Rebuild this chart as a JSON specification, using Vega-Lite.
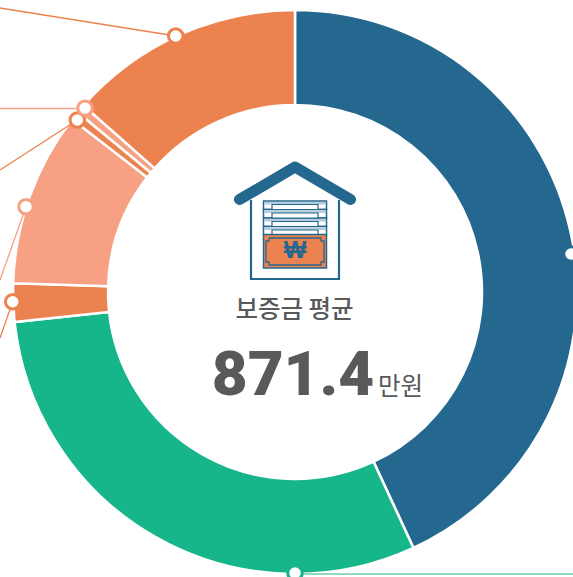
{
"$schema":"https://vega.github.io/schema/vega-lite/v6.json",
"width":573,"height":577,"padding":0,
"autosize":"none",
"background":"#ffffff",
"config":{"view":{"stroke":null},"font":"Noto Sans CJK KR"},
"datasets":{
"shares":[
{"k":"a","share":43.1,"c":"b"},
{"k":"b","share":30.2,"c":"g"},
{"k":"c","share":2.2,"c":"o"},
{"k":"d","share":10.0,"c":"s"},
{"k":"e","share":0.5,"c":"o"},
{"k":"f","share":0.5,"c":"s"},
{"k":"g","share":13.5,"c":"o"}],
"leaders":[
{"id":"o1","c":"o","w":1,"px":0,"py":8},{"id":"o1","c":"o","w":1,"px":175.7,"py":36},
{"id":"o2","c":"o","w":1,"px":0,"py":170},{"id":"o2","c":"o","w":1,"px":77.3,"py":120},
{"id":"s1","c":"s","w":1,"px":0,"py":280},{"id":"s1","c":"s","w":1,"px":26,"py":206.7},
{"id":"o3","c":"o","w":1,"px":0,"py":338},{"id":"o3","c":"o","w":1,"px":12.7,"py":301.7},
{"id":"s2","c":"s","w":2,"px":0,"py":108.5},{"id":"s2","c":"s","w":2,"px":85,"py":108.5},
{"id":"g1","c":"l","w":2,"px":295,"py":574},{"id":"g1","c":"l","w":2,"px":573,"py":574}],
"dots":[
{"px":175.7,"py":36,"c":"o"},{"px":77.3,"py":120,"c":"o"},{"px":85,"py":108.3,"c":"s"},
{"px":26,"py":206.7,"c":"s"},{"px":12.7,"py":301.7,"c":"o"},{"px":295,"py":573,"c":"g"},{"px":571,"py":254,"c":"b"}]
},
"encoding":{},
"layer":[
{"data":{"name":"shares"},"mark":{"type":"arc","outerRadius":282,"innerRadius":187,"stroke":"#ffffff","strokeWidth":2.5},
 "encoding":{"x":{"datum":295,"type":"quantitative","scale":{"domain":[0,573],"nice":false,"zero":false},"axis":null},
 "y":{"datum":292,"type":"quantitative","scale":{"domain":[577,0],"nice":false,"zero":false},"axis":null},
 "theta":{"field":"share","type":"quantitative","stack":true,"scale":{"domain":[0,100],"range":[0,6.28318530718]}},
 "order":{"field":"k"},
 "color":{"field":"c","type":"nominal","scale":{"domain":["b","g","o","s","l"],"range":["#24688F","#17B68A","#EC824F","#F7A083","#6DCDB2"]},"legend":null}}},
{"data":{"name":"leaders"},"mark":{"type":"line","strokeWidth":1.3,"clip":true},
 "encoding":{"x":{"field":"px","type":"quantitative","axis":null},
 "y":{"field":"py","type":"quantitative","axis":null},
 "detail":{"field":"id"},"strokeWidth":{"field":"w","type":"quantitative","scale":{"domain":[1,2],"range":[1.3,2]},"legend":null},
 "color":{"field":"c","type":"nominal","scale":{"domain":["b","g","o","s","l"],"range":["#24688F","#17B68A","#EC824F","#F7A083","#6DCDB2"]},"legend":null}}},
{"data":{"name":"dots"},"mark":{"type":"point","shape":"circle","filled":false,"fill":"#ffffff","fillOpacity":1,"opacity":1,"size":210,"strokeWidth":3},
 "encoding":{"x":{"field":"px","type":"quantitative","axis":null},"y":{"field":"py","type":"quantitative","axis":null},
 "stroke":{"field":"c","type":"nominal","scale":{"domain":["b","g","o","s","l"],"range":["#24688F","#17B68A","#EC824F","#F7A083","#6DCDB2"]},"legend":null}}},
{"data":{"values":[{"px":239.5,"py":199.5,"n":1},{"px":295,"py":167,"n":2},{"px":350.5,"py":199.5,"n":3}]},
 "mark":{"type":"line","stroke":"#24688F","strokeWidth":11,"strokeCap":"round","strokeJoin":"round"},
 "encoding":{"x":{"field":"px","type":"quantitative","axis":null},"y":{"field":"py","type":"quantitative","axis":null},"order":{"field":"n"}}},
{"data":{"values":[{"px":251,"py":200,"n":1},{"px":251,"py":279,"n":2},{"px":339,"py":279,"n":3},{"px":339,"py":200,"n":4}]},
 "mark":{"type":"line","stroke":"#24688F","strokeWidth":2.2},
 "encoding":{"x":{"field":"px","type":"quantitative","axis":null},"y":{"field":"py","type":"quantitative","axis":null},"order":{"field":"n"}}},
{"data":{"values":[
 {"a":263.5,"b":326.5,"t":201,"u":209.5},{"a":263.5,"b":326.5,"t":209.5,"u":218},{"a":263.5,"b":326.5,"t":218,"u":226.5},{"a":263.5,"b":326.5,"t":226.5,"u":235}]},
 "mark":{"type":"rect","fill":"#ffffff","stroke":"#24688F","strokeWidth":1.5},
 "encoding":{"x":{"field":"a","type":"quantitative","axis":null},"x2":{"field":"b"},"y":{"field":"t","type":"quantitative","axis":null},"y2":{"field":"u"}}},
{"data":{"values":[
 {"a":264,"b":326,"t":202,"u":204.5},{"a":264,"b":326,"t":210.5,"u":213},{"a":264,"b":326,"t":219,"u":221.5},{"a":264,"b":326,"t":227.5,"u":230}]},
 "mark":{"type":"rect","fill":"#B5CDDB"},
 "encoding":{"x":{"field":"a","type":"quantitative","axis":null},"x2":{"field":"b"},"y":{"field":"t","type":"quantitative","axis":null},"y2":{"field":"u"}}},
{"data":{"values":[
 {"a":272,"b":318,"t":204.5,"u":209.5},{"a":272,"b":318,"t":213,"u":218},{"a":272,"b":318,"t":221.5,"u":226.5},{"a":272,"b":318,"t":230,"u":235}]},
 "mark":{"type":"rect","fill":"#ffffff","stroke":"#24688F","strokeWidth":1.2},
 "encoding":{"x":{"field":"a","type":"quantitative","axis":null},"x2":{"field":"b"},"y":{"field":"t","type":"quantitative","axis":null},"y2":{"field":"u"}}},
{"data":{"values":[{"a":263.5,"b":326.5,"t":234.5,"u":268}]},
 "mark":{"type":"rect","fill":"#EC824F","stroke":"#24688F","strokeWidth":1.5},
 "encoding":{"x":{"field":"a","type":"quantitative","axis":null},"x2":{"field":"b"},"y":{"field":"t","type":"quantitative","axis":null},"y2":{"field":"u"}}},
{"data":{"values":[{"px":269,"py":238,"n":1},{"px":321,"py":238,"n":2},{"px":321,"py":241,"n":3},{"px":324,"py":241,"n":4},{"px":324,"py":262,"n":5},{"px":321,"py":262,"n":6},{"px":321,"py":265,"n":7},{"px":269,"py":265,"n":8},{"px":269,"py":262,"n":9},{"px":266,"py":262,"n":10},{"px":266,"py":241,"n":11},{"px":269,"py":241,"n":12},{"px":269,"py":238,"n":13}]},
 "mark":{"type":"line","stroke":"#24688F","strokeWidth":1.3},
 "encoding":{"x":{"field":"px","type":"quantitative","axis":null},"y":{"field":"py","type":"quantitative","axis":null},"order":{"field":"n"}}},
{"data":{"values":[{"px":295,"py":251,"t":"₩"}]},
 "mark":{"type":"text","font":"Liberation Sans","fontWeight":"bold","fontSize":24,"fill":"#24688F","align":"center","baseline":"middle"},
 "encoding":{"x":{"field":"px","type":"quantitative","axis":null},"y":{"field":"py","type":"quantitative","axis":null},"text":{"field":"t"}}},
{"data":{"values":[{"px":294.5,"py":311,"t":"보증금 평균"}]},
 "mark":{"type":"text","font":"Noto Sans CJK KR","fontWeight":500,"fontSize":24.5,"fill":"#58595B","align":"center","baseline":"middle"},
 "encoding":{"x":{"field":"px","type":"quantitative","axis":null},"y":{"field":"py","type":"quantitative","axis":null},"text":{"field":"t"}}},
{"data":{"values":[{"px":293,"py":395,"t":"871.4"}]},
 "mark":{"type":"text","font":"Roboto","fontWeight":900,"fontSize":62,"fill":"#58595B","align":"center","baseline":"alphabetic"},
 "encoding":{"x":{"field":"px","type":"quantitative","axis":null},"y":{"field":"py","type":"quantitative","axis":null},"text":{"field":"t"}}},
{"data":{"values":[{"px":378,"py":395,"t":"만원"}]},
 "mark":{"type":"text","font":"Noto Sans CJK KR","fontWeight":400,"fontSize":24.5,"fill":"#58595B","align":"left","baseline":"alphabetic"},
 "encoding":{"x":{"field":"px","type":"quantitative","axis":null},"y":{"field":"py","type":"quantitative","axis":null},"text":{"field":"t"}}}
],
"resolve":{"scale":{"color":"independent"}}
}
